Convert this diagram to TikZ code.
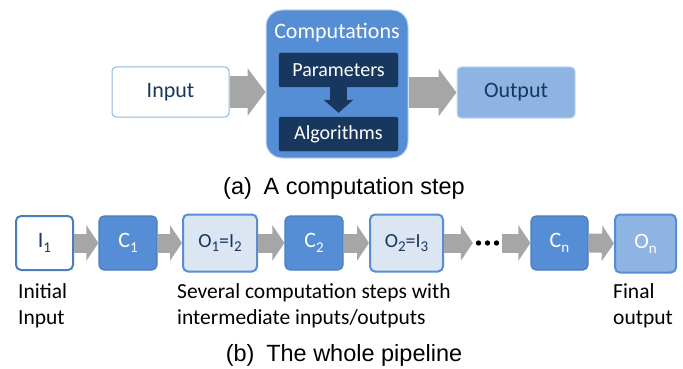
\documentclass[tikz,border=0pt]{standalone}
\usepackage{fontspec}
\setmainfont{Carlito}
\newfontfamily\capfont{Liberation Sans}
\usetikzlibrary{arrows.meta}
\definecolor{navy}{HTML}{17375E}
\definecolor{midblue}{HTML}{558ED5}
\definecolor{midblueb}{HTML}{4A7EBB}
\definecolor{liteblue}{HTML}{8EB4E3}
\definecolor{paleblue}{HTML}{DCE6F2}
\definecolor{edgeblue}{HTML}{C6D9F1}
\definecolor{arrgray}{HTML}{A6A6A6}
\newcommand{\lowsub}[1]{\raisebox{-0.5ex}{\fontsize{15}{15}\selectfont #1}}
\tikzset{
  bigtxt/.style={font=\fontsize{22}{24}\selectfont},
  midtxt/.style={font=\fontsize{20}{22}\selectfont},
  topbox/.style={draw=liteblue, line width=1pt, rounded corners=4pt, bigtxt, text=navy, inner sep=0pt},
  darkbox/.style={fill=navy, draw=navy, rounded corners=2pt, midtxt, text=white, minimum width=119pt, minimum height=34pt, inner sep=0pt},
  whitebox/.style={draw=midblueb, fill=white, line width=2pt, rounded corners=5pt, bigtxt, text=navy, inner sep=0pt},
  cbox/.style={draw=midblueb, fill=midblue, line width=1.2pt, rounded corners=5pt, bigtxt, text=white, minimum width=58pt, minimum height=54pt, inner sep=0pt},
  palebox/.style={draw=midblue, fill=paleblue, line width=2pt, rounded corners=5pt, midtxt, text=navy, minimum height=57pt, inner sep=0pt},
  bigarr/.style={draw=arrgray, line width=31pt, -{Triangle[length=18pt,width=47pt]}},
  smallarr/.style={draw=arrgray, line width=19pt, -{Triangle[length=12pt,width=35pt]}},
  downarr/.style={draw=navy, line width=17pt, -{Triangle[length=13pt,width=29pt]}},
  lbl/.style={font=\fontsize{21.5}{26}\selectfont, align=left, anchor=base west, inner sep=0pt, text=black},
  captxt/.style={font=\capfont\fontsize{23.5}{26}\selectfont, anchor=base, inner sep=0pt}
}
\begin{document}
\begin{tikzpicture}[x=1pt,y=-1pt]
\useasboundingbox (0,0) rectangle (683,369);
% (a)
\node[topbox, fill=white, minimum width=117pt, minimum height=50pt] (in) at (170.5,92) {Input};
\node[draw=edgeblue, fill=midblue, line width=1pt, rounded corners=16pt, minimum width=142pt, minimum height=148pt, inner sep=0pt] (comp) at (337,84) {};
\node[bigtxt, text=white, inner sep=0pt] (ctitle) at (337,33) {Computations};
\node[darkbox] (par) at (338.5,70) {Parameters};
\node[darkbox] (alg) at (338.5,134) {Algorithms};
\node[topbox, fill=liteblue, draw=edgeblue, minimum width=118pt, minimum height=51pt] (out) at (516,92.5) {Output};
\draw[bigarr] (in.east) -- (in.east -| comp.west);
\draw[bigarr] (comp.east |- out.west) -- (out.west);
\draw[downarr, shorten >=4pt] (par.south) -- (alg.north);
\node[captxt] (capa) at (344,194) {(a)\hspace{0.5em}A computation step};
% (b)
\node[whitebox, minimum width=57pt, minimum height=54pt] (i1) at (44.5,243) {I\lowsub{1}};
\node[cbox] (c1) at (128,243) {C\lowsub{1}};
\node[palebox, minimum width=74pt] (o1) at (220,243) {O\lowsub{1}=I\lowsub{2}};
\node[cbox] (c2) at (314,243) {C\lowsub{2}};
\node[palebox, minimum width=73pt] (o2) at (406.5,243) {O\lowsub{2}=I\lowsub{3}};
\node[inner sep=0pt, minimum width=29pt, minimum height=8pt] (dots) at (487.5,243) {};
\fill (478.5,243) circle (2.7pt) (487.5,243) circle (2.7pt) (496.5,243) circle (2.7pt);
\node[cbox, minimum width=57pt] (cn) at (559.5,243) {C\lowsub{n}};
\node[whitebox, fill=liteblue, draw=midblue, text=white, minimum width=61pt, minimum height=58pt] (on) at (645.5,243.5) {O\lowsub{n}};
\draw[smallarr] (i1.east) -- (c1.west);
\draw[smallarr] (c1.east) -- (o1.west);
\draw[smallarr] (o1.east) -- (c2.west);
\draw[smallarr] (c2.east) -- (o2.west);
\draw[smallarr] (o2.east) -- (o2.east -| dots.west);
\draw[smallarr] (dots.east |- cn.west) -- (cn.west);
\draw[smallarr] (cn.east) -- (on.west);
\node[lbl] (l1) at (18,324) {Initial\\Input};
\node[lbl] (l2) at (177,324) {Several computation steps with\\intermediate inputs/outputs};
\node[lbl] (l3) at (613,324) {Final\\output};
\node[captxt] (capb) at (344,361) {(b)\hspace{0.5em}The whole pipeline};
\end{tikzpicture}
\end{document}
